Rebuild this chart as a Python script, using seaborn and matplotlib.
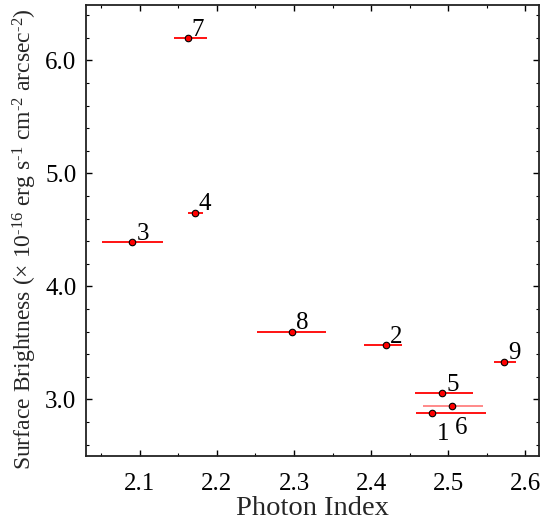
import matplotlib
matplotlib.use("Agg")
import matplotlib.pyplot as plt
import seaborn as sns
import pandas as pd
from matplotlib.ticker import MultipleLocator

# data
region_ids = ["1", "2", "3", "4", "5", "6", "7", "8", "9"]
photon_index = [2.479, 2.419, 2.090, 2.171, 2.492, 2.505, 2.162, 2.297, 2.573]
index_lo = [2.458, 2.391, 2.051, 2.162, 2.457, 2.468, 2.144, 2.252, 2.560]
index_hi = [2.549, 2.440, 2.130, 2.182, 2.532, 2.545, 2.187, 2.342, 2.588]
surface_brightness = [2.876, 3.478, 4.390, 4.650, 3.053, 2.940, 6.195, 3.600, 3.330]
x_ticks = [2.1, 2.2, 2.3, 2.4, 2.5, 2.6]
y_ticks = [3.0, 4.0, 5.0, 6.0]

df = pd.DataFrame({"id": region_ids, "gamma": photon_index, "lo": index_lo,
                   "hi": index_hi, "sb": surface_brightness})

sns.set_theme(style="ticks")
plt.rcParams["font.family"] = ["Liberation Serif", "DejaVu Serif"]
plt.rcParams["mathtext.fontset"] = "custom"
plt.rcParams["mathtext.rm"] = "Liberation Serif"
plt.rcParams["mathtext.it"] = "Liberation Serif:italic"

fig = plt.figure(figsize=(5.55, 5.26), dpi=100)
ax = fig.add_axes([86 / 555, 1 - 456 / 526, (539 - 86) / 555, (456 - 5) / 526])

# horizontal error bars
for _, r in df.iterrows():
    col = "#ff8080" if r["id"] == "6" else "red"
    ax.hlines(r["sb"], r["lo"], r["hi"], color=col, lw=1.3, zorder=2)

sns.scatterplot(data=df, x="gamma", y="sb", ax=ax, color="red", edgecolor="black",
                linewidth=0.8, s=22, zorder=3, legend=False)

# labels (offsets in points)
offsets = {"1": (3.5, -7, "top"), "6": (2, -8, "top")}
for _, r in df.iterrows():
    dx, dy, va = offsets.get(r["id"], (3, 2, "baseline"))
    ax.annotate(r["id"], (r["gamma"], r["sb"]), xytext=(dx, dy),
                textcoords="offset points", ha="left", va=va, fontsize=18,
                color="black")

ax.set_xlim(2.03, 2.618)
ax.set_ylim(2.5, 6.49)
ax.set_xticks(x_ticks)
ax.set_yticks(y_ticks)
ax.set_xticklabels([f"{v:.1f}" for v in x_ticks])
ax.set_yticklabels([f"{v:.1f}" for v in y_ticks])
ax.xaxis.set_minor_locator(MultipleLocator(0.05))
ax.yaxis.set_minor_locator(MultipleLocator(0.2))
ax.tick_params(which="both", direction="in", top=True, right=True,
               labelsize=18, colors="black")
ax.tick_params(axis="x", which="major", pad=12)
ax.tick_params(axis="y", which="major", pad=7)
ax.tick_params(which="major", length=4, width=1)
ax.tick_params(which="minor", length=2, width=0.8)
for s in ax.spines.values():
    s.set_color("#222222")
    s.set_linewidth(1.3)

ax.set_xlabel("Photon Index", fontsize=20.5, labelpad=1)
ax.set_ylabel(r"Surface Brightness ($\times$ 10$^{\text{-}16}$ erg s$^{\text{-}1}$ cm$^{\text{-}2}$ arcsec$^{\text{-}2}$)",
              fontsize=17, va="center")
ax.yaxis.set_label_coords(-0.135, 0.48)

fig.savefig("out.png", dpi=100)
